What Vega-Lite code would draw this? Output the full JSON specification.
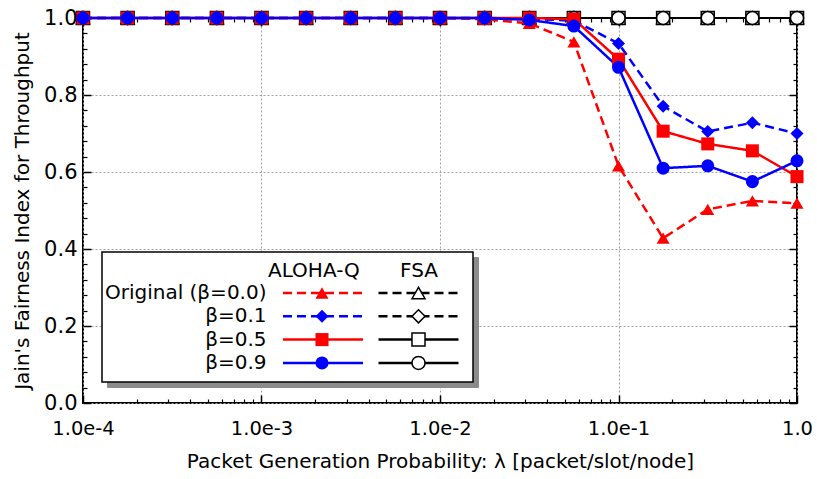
{
  "$schema": "https://vega.github.io/schema/vega-lite/v6.json",
  "width": 714,
  "height": 385,
  "autosize": {"type": "none"},
  "padding": {"left": 83, "top": 18, "right": 20, "bottom": 76},
  "background": "white",
  "config": {
    "view": {"stroke": "black", "strokeWidth": 2},
    "axis": {"labelFont": "DejaVu Sans", "titleFont": "DejaVu Sans", "titleFontWeight": "normal", "labelColor": "black", "titleColor": "black", "domain": false, "grid": false, "labels": false, "ticks": false, "tickColor": "black"},
    "legend": {"labelFont": "DejaVu Sans", "titleFont": "DejaVu Sans", "titleFontWeight": "normal", "labelFontSize": 20, "titleFontSize": 20, "orient": "none", "direction": "vertical", "padding": 0, "rowPadding": 3.3, "titlePadding": 2, "labelLimit": 400, "titleLimit": 400}
  },
  "datasets": {
    "aloha": [
      {"method": "ALOHA-Q", "series": "Original (β=0.0)", "lambda": 0.0001, "fairness": 1.0},
      {"method": "ALOHA-Q", "series": "Original (β=0.0)", "lambda": 0.00017783, "fairness": 1.0},
      {"method": "ALOHA-Q", "series": "Original (β=0.0)", "lambda": 0.00031623, "fairness": 1.0},
      {"method": "ALOHA-Q", "series": "Original (β=0.0)", "lambda": 0.00056234, "fairness": 1.0},
      {"method": "ALOHA-Q", "series": "Original (β=0.0)", "lambda": 0.001, "fairness": 1.0},
      {"method": "ALOHA-Q", "series": "Original (β=0.0)", "lambda": 0.0017783, "fairness": 1.0},
      {"method": "ALOHA-Q", "series": "Original (β=0.0)", "lambda": 0.0031623, "fairness": 1.0},
      {"method": "ALOHA-Q", "series": "Original (β=0.0)", "lambda": 0.0056234, "fairness": 1.0},
      {"method": "ALOHA-Q", "series": "Original (β=0.0)", "lambda": 0.01, "fairness": 1.0},
      {"method": "ALOHA-Q", "series": "Original (β=0.0)", "lambda": 0.017783, "fairness": 0.997},
      {"method": "ALOHA-Q", "series": "Original (β=0.0)", "lambda": 0.031623, "fairness": 0.986},
      {"method": "ALOHA-Q", "series": "Original (β=0.0)", "lambda": 0.056234, "fairness": 0.938},
      {"method": "ALOHA-Q", "series": "Original (β=0.0)", "lambda": 0.1, "fairness": 0.616},
      {"method": "ALOHA-Q", "series": "Original (β=0.0)", "lambda": 0.17783, "fairness": 0.428},
      {"method": "ALOHA-Q", "series": "Original (β=0.0)", "lambda": 0.31623, "fairness": 0.503},
      {"method": "ALOHA-Q", "series": "Original (β=0.0)", "lambda": 0.56234, "fairness": 0.525},
      {"method": "ALOHA-Q", "series": "Original (β=0.0)", "lambda": 1.0, "fairness": 0.519},
      {"method": "ALOHA-Q", "series": "β=0.1", "lambda": 0.0001, "fairness": 1.0},
      {"method": "ALOHA-Q", "series": "β=0.1", "lambda": 0.00017783, "fairness": 1.0},
      {"method": "ALOHA-Q", "series": "β=0.1", "lambda": 0.00031623, "fairness": 1.0},
      {"method": "ALOHA-Q", "series": "β=0.1", "lambda": 0.00056234, "fairness": 1.0},
      {"method": "ALOHA-Q", "series": "β=0.1", "lambda": 0.001, "fairness": 1.0},
      {"method": "ALOHA-Q", "series": "β=0.1", "lambda": 0.0017783, "fairness": 1.0},
      {"method": "ALOHA-Q", "series": "β=0.1", "lambda": 0.0031623, "fairness": 1.0},
      {"method": "ALOHA-Q", "series": "β=0.1", "lambda": 0.0056234, "fairness": 1.0},
      {"method": "ALOHA-Q", "series": "β=0.1", "lambda": 0.01, "fairness": 1.0},
      {"method": "ALOHA-Q", "series": "β=0.1", "lambda": 0.017783, "fairness": 1.0},
      {"method": "ALOHA-Q", "series": "β=0.1", "lambda": 0.031623, "fairness": 0.998},
      {"method": "ALOHA-Q", "series": "β=0.1", "lambda": 0.056234, "fairness": 0.993},
      {"method": "ALOHA-Q", "series": "β=0.1", "lambda": 0.1, "fairness": 0.934},
      {"method": "ALOHA-Q", "series": "β=0.1", "lambda": 0.17783, "fairness": 0.771},
      {"method": "ALOHA-Q", "series": "β=0.1", "lambda": 0.31623, "fairness": 0.705},
      {"method": "ALOHA-Q", "series": "β=0.1", "lambda": 0.56234, "fairness": 0.728},
      {"method": "ALOHA-Q", "series": "β=0.1", "lambda": 1.0, "fairness": 0.700},
      {"method": "ALOHA-Q", "series": "β=0.5", "lambda": 0.0001, "fairness": 1.0},
      {"method": "ALOHA-Q", "series": "β=0.5", "lambda": 0.00017783, "fairness": 1.0},
      {"method": "ALOHA-Q", "series": "β=0.5", "lambda": 0.00031623, "fairness": 1.0},
      {"method": "ALOHA-Q", "series": "β=0.5", "lambda": 0.00056234, "fairness": 1.0},
      {"method": "ALOHA-Q", "series": "β=0.5", "lambda": 0.001, "fairness": 1.0},
      {"method": "ALOHA-Q", "series": "β=0.5", "lambda": 0.0017783, "fairness": 1.0},
      {"method": "ALOHA-Q", "series": "β=0.5", "lambda": 0.0031623, "fairness": 1.0},
      {"method": "ALOHA-Q", "series": "β=0.5", "lambda": 0.0056234, "fairness": 1.0},
      {"method": "ALOHA-Q", "series": "β=0.5", "lambda": 0.01, "fairness": 1.0},
      {"method": "ALOHA-Q", "series": "β=0.5", "lambda": 0.017783, "fairness": 1.0},
      {"method": "ALOHA-Q", "series": "β=0.5", "lambda": 0.031623, "fairness": 1.0},
      {"method": "ALOHA-Q", "series": "β=0.5", "lambda": 0.056234, "fairness": 0.997},
      {"method": "ALOHA-Q", "series": "β=0.5", "lambda": 0.1, "fairness": 0.893},
      {"method": "ALOHA-Q", "series": "β=0.5", "lambda": 0.17783, "fairness": 0.706},
      {"method": "ALOHA-Q", "series": "β=0.5", "lambda": 0.31623, "fairness": 0.673},
      {"method": "ALOHA-Q", "series": "β=0.5", "lambda": 0.56234, "fairness": 0.655},
      {"method": "ALOHA-Q", "series": "β=0.5", "lambda": 1.0, "fairness": 0.588},
      {"method": "ALOHA-Q", "series": "β=0.9", "lambda": 0.0001, "fairness": 1.0},
      {"method": "ALOHA-Q", "series": "β=0.9", "lambda": 0.00017783, "fairness": 1.0},
      {"method": "ALOHA-Q", "series": "β=0.9", "lambda": 0.00031623, "fairness": 1.0},
      {"method": "ALOHA-Q", "series": "β=0.9", "lambda": 0.00056234, "fairness": 1.0},
      {"method": "ALOHA-Q", "series": "β=0.9", "lambda": 0.001, "fairness": 1.0},
      {"method": "ALOHA-Q", "series": "β=0.9", "lambda": 0.0017783, "fairness": 1.0},
      {"method": "ALOHA-Q", "series": "β=0.9", "lambda": 0.0031623, "fairness": 1.0},
      {"method": "ALOHA-Q", "series": "β=0.9", "lambda": 0.0056234, "fairness": 1.0},
      {"method": "ALOHA-Q", "series": "β=0.9", "lambda": 0.01, "fairness": 1.0},
      {"method": "ALOHA-Q", "series": "β=0.9", "lambda": 0.017783, "fairness": 1.0},
      {"method": "ALOHA-Q", "series": "β=0.9", "lambda": 0.031623, "fairness": 0.995},
      {"method": "ALOHA-Q", "series": "β=0.9", "lambda": 0.056234, "fairness": 0.979},
      {"method": "ALOHA-Q", "series": "β=0.9", "lambda": 0.1, "fairness": 0.872},
      {"method": "ALOHA-Q", "series": "β=0.9", "lambda": 0.17783, "fairness": 0.610},
      {"method": "ALOHA-Q", "series": "β=0.9", "lambda": 0.31623, "fairness": 0.616},
      {"method": "ALOHA-Q", "series": "β=0.9", "lambda": 0.56234, "fairness": 0.575},
      {"method": "ALOHA-Q", "series": "β=0.9", "lambda": 1.0, "fairness": 0.629}
    ],
    "fsa": [
      {"method": "FSA", "series": "Original (β=0.0)", "lambda": 0.0001, "fairness": 1.0},
      {"method": "FSA", "series": "Original (β=0.0)", "lambda": 0.00017783, "fairness": 1.0},
      {"method": "FSA", "series": "Original (β=0.0)", "lambda": 0.00031623, "fairness": 1.0},
      {"method": "FSA", "series": "Original (β=0.0)", "lambda": 0.00056234, "fairness": 1.0},
      {"method": "FSA", "series": "Original (β=0.0)", "lambda": 0.001, "fairness": 1.0},
      {"method": "FSA", "series": "Original (β=0.0)", "lambda": 0.0017783, "fairness": 1.0},
      {"method": "FSA", "series": "Original (β=0.0)", "lambda": 0.0031623, "fairness": 1.0},
      {"method": "FSA", "series": "Original (β=0.0)", "lambda": 0.0056234, "fairness": 1.0},
      {"method": "FSA", "series": "Original (β=0.0)", "lambda": 0.01, "fairness": 1.0},
      {"method": "FSA", "series": "Original (β=0.0)", "lambda": 0.017783, "fairness": 1.0},
      {"method": "FSA", "series": "Original (β=0.0)", "lambda": 0.031623, "fairness": 1.0},
      {"method": "FSA", "series": "Original (β=0.0)", "lambda": 0.056234, "fairness": 1.0},
      {"method": "FSA", "series": "Original (β=0.0)", "lambda": 0.1, "fairness": 1.0},
      {"method": "FSA", "series": "Original (β=0.0)", "lambda": 0.17783, "fairness": 1.0},
      {"method": "FSA", "series": "Original (β=0.0)", "lambda": 0.31623, "fairness": 1.0},
      {"method": "FSA", "series": "Original (β=0.0)", "lambda": 0.56234, "fairness": 1.0},
      {"method": "FSA", "series": "Original (β=0.0)", "lambda": 1.0, "fairness": 1.0},
      {"method": "FSA", "series": "β=0.1", "lambda": 0.0001, "fairness": 1.0},
      {"method": "FSA", "series": "β=0.1", "lambda": 0.00017783, "fairness": 1.0},
      {"method": "FSA", "series": "β=0.1", "lambda": 0.00031623, "fairness": 1.0},
      {"method": "FSA", "series": "β=0.1", "lambda": 0.00056234, "fairness": 1.0},
      {"method": "FSA", "series": "β=0.1", "lambda": 0.001, "fairness": 1.0},
      {"method": "FSA", "series": "β=0.1", "lambda": 0.0017783, "fairness": 1.0},
      {"method": "FSA", "series": "β=0.1", "lambda": 0.0031623, "fairness": 1.0},
      {"method": "FSA", "series": "β=0.1", "lambda": 0.0056234, "fairness": 1.0},
      {"method": "FSA", "series": "β=0.1", "lambda": 0.01, "fairness": 1.0},
      {"method": "FSA", "series": "β=0.1", "lambda": 0.017783, "fairness": 1.0},
      {"method": "FSA", "series": "β=0.1", "lambda": 0.031623, "fairness": 1.0},
      {"method": "FSA", "series": "β=0.1", "lambda": 0.056234, "fairness": 1.0},
      {"method": "FSA", "series": "β=0.1", "lambda": 0.1, "fairness": 1.0},
      {"method": "FSA", "series": "β=0.1", "lambda": 0.17783, "fairness": 1.0},
      {"method": "FSA", "series": "β=0.1", "lambda": 0.31623, "fairness": 1.0},
      {"method": "FSA", "series": "β=0.1", "lambda": 0.56234, "fairness": 1.0},
      {"method": "FSA", "series": "β=0.1", "lambda": 1.0, "fairness": 1.0},
      {"method": "FSA", "series": "β=0.5", "lambda": 0.0001, "fairness": 1.0},
      {"method": "FSA", "series": "β=0.5", "lambda": 0.00017783, "fairness": 1.0},
      {"method": "FSA", "series": "β=0.5", "lambda": 0.00031623, "fairness": 1.0},
      {"method": "FSA", "series": "β=0.5", "lambda": 0.00056234, "fairness": 1.0},
      {"method": "FSA", "series": "β=0.5", "lambda": 0.001, "fairness": 1.0},
      {"method": "FSA", "series": "β=0.5", "lambda": 0.0017783, "fairness": 1.0},
      {"method": "FSA", "series": "β=0.5", "lambda": 0.0031623, "fairness": 1.0},
      {"method": "FSA", "series": "β=0.5", "lambda": 0.0056234, "fairness": 1.0},
      {"method": "FSA", "series": "β=0.5", "lambda": 0.01, "fairness": 1.0},
      {"method": "FSA", "series": "β=0.5", "lambda": 0.017783, "fairness": 1.0},
      {"method": "FSA", "series": "β=0.5", "lambda": 0.031623, "fairness": 1.0},
      {"method": "FSA", "series": "β=0.5", "lambda": 0.056234, "fairness": 1.0},
      {"method": "FSA", "series": "β=0.5", "lambda": 0.1, "fairness": 1.0},
      {"method": "FSA", "series": "β=0.5", "lambda": 0.17783, "fairness": 1.0},
      {"method": "FSA", "series": "β=0.5", "lambda": 0.31623, "fairness": 1.0},
      {"method": "FSA", "series": "β=0.5", "lambda": 0.56234, "fairness": 1.0},
      {"method": "FSA", "series": "β=0.5", "lambda": 1.0, "fairness": 1.0},
      {"method": "FSA", "series": "β=0.9", "lambda": 0.0001, "fairness": 1.0},
      {"method": "FSA", "series": "β=0.9", "lambda": 0.00017783, "fairness": 1.0},
      {"method": "FSA", "series": "β=0.9", "lambda": 0.00031623, "fairness": 1.0},
      {"method": "FSA", "series": "β=0.9", "lambda": 0.00056234, "fairness": 1.0},
      {"method": "FSA", "series": "β=0.9", "lambda": 0.001, "fairness": 1.0},
      {"method": "FSA", "series": "β=0.9", "lambda": 0.0017783, "fairness": 1.0},
      {"method": "FSA", "series": "β=0.9", "lambda": 0.0031623, "fairness": 1.0},
      {"method": "FSA", "series": "β=0.9", "lambda": 0.0056234, "fairness": 1.0},
      {"method": "FSA", "series": "β=0.9", "lambda": 0.01, "fairness": 1.0},
      {"method": "FSA", "series": "β=0.9", "lambda": 0.017783, "fairness": 1.0},
      {"method": "FSA", "series": "β=0.9", "lambda": 0.031623, "fairness": 1.0},
      {"method": "FSA", "series": "β=0.9", "lambda": 0.056234, "fairness": 1.0},
      {"method": "FSA", "series": "β=0.9", "lambda": 0.1, "fairness": 1.0},
      {"method": "FSA", "series": "β=0.9", "lambda": 0.17783, "fairness": 1.0},
      {"method": "FSA", "series": "β=0.9", "lambda": 0.31623, "fairness": 1.0},
      {"method": "FSA", "series": "β=0.9", "lambda": 0.56234, "fairness": 1.0},
      {"method": "FSA", "series": "β=0.9", "lambda": 1.0, "fairness": 1.0}
    ]
  },
  "resolve": {
    "scale": {"color": "independent", "shape": "independent", "strokeDash": "independent"},
    "axis": {"x": "independent", "y": "independent"},
    "legend": {"color": "independent", "shape": "independent", "strokeDash": "independent"}
  },
  "layer": [
    {
      "data": {"name": "fsa"},
      "mark": {"type": "line", "color": "black", "strokeWidth": 2},
      "encoding": {
        "x": {"field": "lambda", "type": "quantitative", "scale": {"type": "log", "domain": [0.0001, 1]},
          "axis": {"orient": "bottom", "values": [0.0001, 0.001, 0.01, 0.1, 1], "labels": true, "labelExpr": "datum.value >= 0.99 ? '1.0' : '1.0e-' + format(-log(datum.value) / LN10, '.0f')", "labelFontSize": 19.5, "labelPadding": 16, "labelFlush": false, "labelOverlap": false, "grid": true, "gridColor": "#a0a0a0", "gridDash": [2, 2], "gridWidth": 1, "title": "Packet Generation Probability:  λ [packet/slot/node]", "titleFontSize": 20, "titlePadding": 14}},
        "y": {"field": "fairness", "type": "quantitative", "scale": {"domain": [0, 1], "nice": false, "zero": false},
          "axis": {"orient": "left", "values": [0, 0.2, 0.4, 0.6, 0.8, 1], "format": ".1f", "labels": true, "labelFontSize": 21, "labelPadding": 6, "labelFlush": false, "grid": true, "gridColor": "#a0a0a0", "gridDash": [2, 2], "gridWidth": 1, "title": "Jain's Fairness Index for Throughput", "titleFontSize": 20, "titlePadding": 11}},
        "strokeDash": {"field": "series", "type": "nominal",
          "scale": {"domain": ["Original (β=0.0)", "β=0.1", "β=0.5", "β=0.9"], "range": [[9, 5], [9, 5], [1, 0], [1, 0]]},
          "legend": {"legendX": 19, "legendY": 234, "padding": 9, "fillColor": "white", "strokeColor": "black", "title": " ", "symbolType": "M-8,0H8", "symbolSize": 100, "symbolStrokeWidth": 2.5, "symbolStrokeColor": "black", "symbolOffset": 297.5, "labelAlign": "right", "labelOffset": -162, "labelColor": "black", "zindex": 2,
            "encode": {"legend": {"update": {"strokeWidth": {"value": 1.5}}}}}}
      }
    },
    {
      "data": {"name": "fsa"},
      "mark": {"type": "point", "filled": true, "fill": "white", "stroke": "black", "strokeWidth": 1.5, "size": 170, "opacity": 1},
      "encoding": {
        "x": {"field": "lambda", "type": "quantitative", "axis": {"orient": "bottom", "values": [0.0001, 0.001, 0.01, 0.1, 1], "ticks": true, "tickSize": -8, "tickWidth": 1.5, "title": null}},
        "y": {"field": "fairness", "type": "quantitative", "axis": {"orient": "left", "values": [0, 0.2, 0.4, 0.6, 0.8, 1], "ticks": true, "tickSize": -8, "tickWidth": 1.5, "title": null}},
        "shape": {"field": "series", "type": "nominal",
          "scale": {"domain": ["Original (β=0.0)", "β=0.1", "β=0.5", "β=0.9"], "range": ["triangle-up", "diamond", "square", "circle"]},
          "legend": {"legendX": 317, "legendY": 243, "title": "FSA", "titleColor": "black", "labelExpr": "' '", "symbolSize": 170, "symbolOffset": 8.5, "zindex": 3,
            "encode": {"symbols": {"update": {"fill": {"value": "white"}, "stroke": {"value": "black"}, "strokeWidth": {"value": 1.5}, "opacity": {"value": 1}}}}}}
      }
    },
    {
      "data": {"name": "aloha"},
      "mark": {"type": "line", "strokeWidth": 2.5},
      "encoding": {
        "x": {"field": "lambda", "type": "quantitative", "axis": {"orient": "bottom", "values": [0.0002, 0.0003, 0.0004, 0.0005, 0.0006, 0.0007, 0.0008, 0.0009, 0.002, 0.003, 0.004, 0.005, 0.006, 0.007, 0.008, 0.009, 0.02, 0.03, 0.04, 0.05, 0.06, 0.07, 0.08, 0.09, 0.2, 0.3, 0.4, 0.5, 0.6, 0.7, 0.8, 0.9], "ticks": true, "tickSize": -4, "tickWidth": 1.2, "title": null}},
        "y": {"field": "fairness", "type": "quantitative", "axis": {"orient": "left", "values": [0.04, 0.08, 0.12, 0.16, 0.24, 0.28, 0.32, 0.36, 0.44, 0.48, 0.52, 0.56, 0.64, 0.68, 0.72, 0.76, 0.84, 0.88, 0.92, 0.96], "ticks": true, "tickSize": -4, "tickWidth": 1.2, "title": null}},
        "color": {"field": "series", "type": "nominal",
          "scale": {"domain": ["Original (β=0.0)", "β=0.1", "β=0.5", "β=0.9"], "range": ["#ff0000", "#0000ff", "#ff0000", "#0000ff"]},
          "legend": {"legendX": 185, "legendY": 243, "title": "ALOHA-Q", "titleColor": "black", "labelExpr": "' '", "symbolType": "M-8,0H8", "symbolSize": 100, "symbolStrokeWidth": 2.5, "symbolOffset": 45, "zindex": 3}},
        "strokeDash": {"field": "series", "type": "nominal",
          "scale": {"domain": ["Original (β=0.0)", "β=0.1", "β=0.5", "β=0.9"], "range": [[9, 5], [9, 5], [1, 0], [1, 0]]},
          "legend": {"legendX": 185, "legendY": 243, "title": "ALOHA-Q", "titleColor": "black", "labelExpr": "' '", "symbolType": "M-8,0H8", "symbolSize": 100, "symbolStrokeWidth": 2.5, "symbolOffset": 45, "zindex": 3}}
      }
    },
    {
      "data": {"name": "aloha"},
      "mark": {"type": "point", "filled": true, "size": 170, "opacity": 1, "strokeWidth": 0},
      "encoding": {
        "x": {"field": "lambda", "type": "quantitative", "axis": {"orient": "top", "values": [0.0001, 0.001, 0.01, 0.1, 1], "ticks": true, "tickSize": -8, "tickWidth": 1.5, "title": null}},
        "y": {"field": "fairness", "type": "quantitative", "axis": {"orient": "right", "values": [0, 0.2, 0.4, 0.6, 0.8, 1], "ticks": true, "tickSize": -8, "tickWidth": 1.5, "title": null}},
        "color": {"field": "series", "type": "nominal",
          "scale": {"domain": ["Original (β=0.0)", "β=0.1", "β=0.5", "β=0.9"], "range": ["#ff0000", "#0000ff", "#ff0000", "#0000ff"]},
          "legend": {"legendX": 185, "legendY": 243, "title": " ", "labelExpr": "' '", "symbolSize": 170, "symbolStrokeWidth": 0, "symbolOffset": 44, "zindex": 3}},
        "shape": {"field": "series", "type": "nominal",
          "scale": {"domain": ["Original (β=0.0)", "β=0.1", "β=0.5", "β=0.9"], "range": ["triangle-up", "diamond", "square", "circle"]},
          "legend": {"legendX": 185, "legendY": 243, "title": " ", "labelExpr": "' '", "symbolSize": 170, "symbolStrokeWidth": 0, "symbolOffset": 44, "zindex": 3}}
      }
    },
    {
      "data": {"name": "fsa"},
      "mark": {"type": "line", "opacity": 0},
      "encoding": {
        "x": {"field": "lambda", "type": "quantitative", "axis": {"orient": "top", "values": [0.0002, 0.0003, 0.0004, 0.0005, 0.0006, 0.0007, 0.0008, 0.0009, 0.002, 0.003, 0.004, 0.005, 0.006, 0.007, 0.008, 0.009, 0.02, 0.03, 0.04, 0.05, 0.06, 0.07, 0.08, 0.09, 0.2, 0.3, 0.4, 0.5, 0.6, 0.7, 0.8, 0.9], "ticks": true, "tickSize": -4, "tickWidth": 1.2, "title": null}},
        "y": {"field": "fairness", "type": "quantitative", "axis": {"orient": "right", "values": [0.04, 0.08, 0.12, 0.16, 0.24, 0.28, 0.32, 0.36, 0.44, 0.48, 0.52, 0.56, 0.64, 0.68, 0.72, 0.76, 0.84, 0.88, 0.92, 0.96], "ticks": true, "tickSize": -4, "tickWidth": 1.2, "title": null}},
        "strokeDash": {"field": "series", "type": "nominal",
          "scale": {"domain": ["Original (β=0.0)", "β=0.1", "β=0.5", "β=0.9"], "range": [[9, 5], [9, 5], [1, 0], [1, 0]]},
          "legend": {"legendX": 24, "legendY": 239, "padding": 9, "fillColor": "#8c8c8c", "strokeColor": "#8c8c8c", "title": " ", "symbolType": "M-8,0H8", "symbolSize": 100, "symbolStrokeWidth": 2.5, "symbolStrokeColor": "transparent", "symbolOffset": 297.5, "labelAlign": "right", "labelOffset": -162, "labelExpr": "' '", "zindex": 1}}
      }
    }
  ]
}
